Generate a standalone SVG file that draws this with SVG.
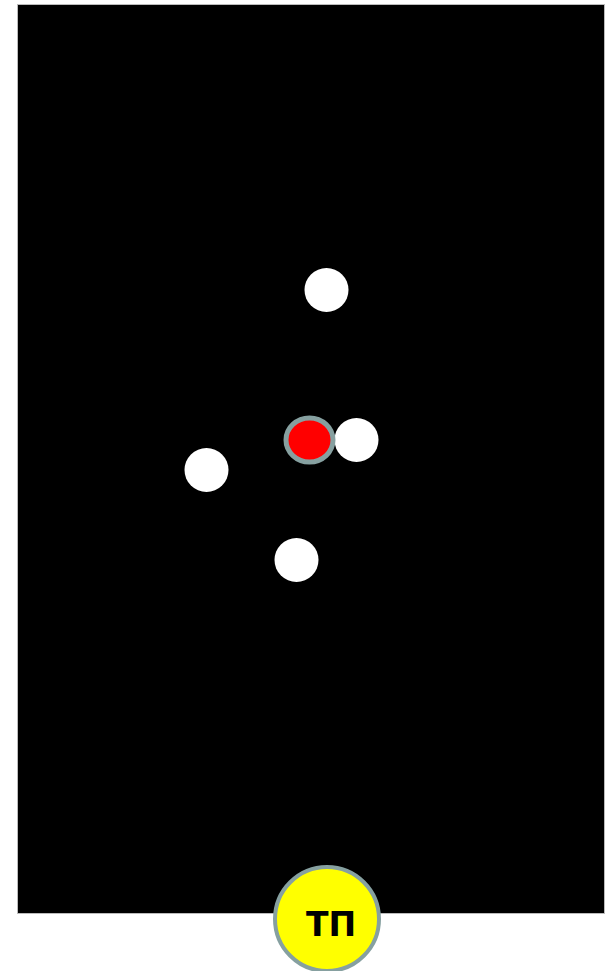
<svg xmlns="http://www.w3.org/2000/svg" width="610" height="971" viewBox="0 0 610 971">
<style>
.dot{fill:#fff}
.ring{stroke:#86a0a0}
.lbl{font-family:"DejaVu Sans",sans-serif;font-weight:bold;font-size:33px;fill:#000;text-anchor:middle}
</style>
<rect x="17.5" y="4.5" width="587" height="909" fill="#000" stroke="#bbb" stroke-width="1"/>
<g id="connectors"></g>
<g id="n-top"><circle class="dot" cx="326.5" cy="290" r="22"/></g>
<g id="n-left"><circle class="dot" cx="206.5" cy="470" r="22"/></g>
<g id="n-bottom"><circle class="dot" cx="296.5" cy="560" r="22"/></g>
<g id="n-right"><circle class="dot" cx="356.5" cy="440" r="22"/></g>
<g id="n-red"><ellipse class="ring" cx="309.5" cy="440" rx="23.5" ry="22" fill="#ff0000" stroke-width="5"/></g>
<g id="n-tp"><circle class="ring" cx="327" cy="919" r="52" fill="#ffff00" stroke-width="4"/><text class="lbl" x="331" y="936">ТП</text></g>
</svg>
